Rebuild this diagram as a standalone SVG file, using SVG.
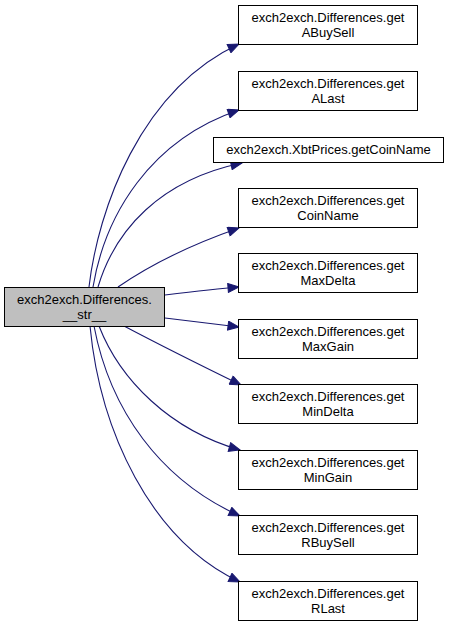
<svg xmlns="http://www.w3.org/2000/svg" width="449" height="627" viewBox="0 0 449 627">
<style>
.n rect{fill:#ffffff;stroke:#000000;stroke-width:1}
.root rect{fill:#bfbfbf}
text{font-family:"Liberation Sans",Arial,Helvetica,sans-serif;font-size:13px;fill:#000000;text-anchor:middle}
.e{fill:none;stroke:#191970;stroke-width:1.1;marker-end:url(#ah)}
</style>
<defs>
<marker id="ah" markerUnits="userSpaceOnUse" markerWidth="13" markerHeight="10" refX="11" refY="4.5" orient="auto" viewBox="-1 -0.5 13 10">
<path d="M0,0 L11,4.5 L0,9 z" fill="#191970" stroke="#191970" stroke-width="1"/>
</marker>
</defs>
<rect x="0" y="0" width="449" height="627" fill="#ffffff"/>
<g id="connectors">
<path class="e" d="M89,287 C98,210 140,90 239,44"/>
<path class="e" d="M93,287 C105,215 150,140 239,110"/>
<path class="e" d="M98,287 C115,230 160,180 242,163"/>
<path class="e" d="M118,287 C150,265 190,245 239,228"/>
<path class="e" d="M165,295 C190,292 215,289 239,287"/>
<path class="e" d="M165,318 C190,321 215,324 239,327"/>
<path class="e" d="M124,326 C160,345 200,365 241,385"/>
<path class="e" d="M99,326 C120,380 170,430 240,450"/>
<path class="e" d="M94,326 C110,410 160,480 240,516"/>
<path class="e" d="M90,326 C100,430 150,540 240,582"/>
</g>
<g id="node_str" class="n root">
<rect x="4.5" y="287.5" width="160" height="39"/>
<text x="84.5" y="304">exch2exch.Differences.</text>
<text x="84.5" y="319">__str__</text>
</g>
<g id="node_ABuySell" class="n">
<rect x="238.5" y="5.5" width="179" height="39"/>
<text x="328" y="22">exch2exch.Differences.get</text>
<text x="328" y="37">ABuySell</text>
</g>
<g id="node_ALast" class="n">
<rect x="238.5" y="71.5" width="179" height="39"/>
<text x="328" y="88">exch2exch.Differences.get</text>
<text x="328" y="103">ALast</text>
</g>
<g id="node_XbtCoinName" class="n">
<rect x="213.5" y="137.5" width="230" height="25"/>
<text x="328.5" y="154">exch2exch.XbtPrices.getCoinName</text>
</g>
<g id="node_CoinName" class="n">
<rect x="238.5" y="188.5" width="179" height="39"/>
<text x="328" y="205">exch2exch.Differences.get</text>
<text x="328" y="220">CoinName</text>
</g>
<g id="node_MaxDelta" class="n">
<rect x="238.5" y="253.5" width="179" height="39"/>
<text x="328" y="270">exch2exch.Differences.get</text>
<text x="328" y="285">MaxDelta</text>
</g>
<g id="node_MaxGain" class="n">
<rect x="238.5" y="319.5" width="179" height="39"/>
<text x="328" y="336">exch2exch.Differences.get</text>
<text x="328" y="351">MaxGain</text>
</g>
<g id="node_MinDelta" class="n">
<rect x="238.5" y="384.5" width="179" height="39"/>
<text x="328" y="401">exch2exch.Differences.get</text>
<text x="328" y="416">MinDelta</text>
</g>
<g id="node_MinGain" class="n">
<rect x="238.5" y="450.5" width="179" height="39"/>
<text x="328" y="467">exch2exch.Differences.get</text>
<text x="328" y="482">MinGain</text>
</g>
<g id="node_RBuySell" class="n">
<rect x="238.5" y="515.5" width="179" height="39"/>
<text x="328" y="532">exch2exch.Differences.get</text>
<text x="328" y="547">RBuySell</text>
</g>
<g id="node_RLast" class="n">
<rect x="238.5" y="581.5" width="179" height="39"/>
<text x="328" y="598">exch2exch.Differences.get</text>
<text x="328" y="613">RLast</text>
</g>
</svg>
